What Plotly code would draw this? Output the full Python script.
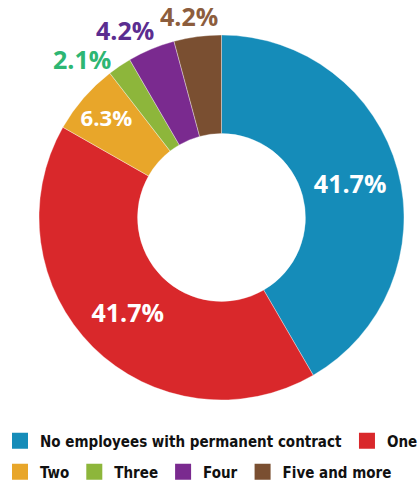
import math
import plotly.graph_objects as go

# Share of companies by number of employees on a permanent contract
categories = ["No employees with permanent contract", "One", "Two", "Three", "Four", "Five and more"]
shares = [41.7, 41.7, 6.3, 2.1, 4.2, 4.2]

slice_colors = ["#158CB9", "#D9282B", "#E8A62A", "#8DB63B", "#7A2A8F", "#7A4F31"]
small_label_colors = ["#FFFFFF", "#FFFFFF", "#FFFFFF", "#2DB673", "#5B2D90", "#8C5D3D"]
inside_labels = [True, True, True, False, False, False]
legend_rows = ["legend", "legend", "legend2", "legend2", "legend2", "legend2"]

W, H = 419, 493
# pie placement in pixels
pie_left, pie_right, pie_top, pie_bottom = 38, 405, 35, 400
HOLE = 0.46

label_font = dict(family="Open Sans", size=25, weight="bold")
legend_font = dict(family="DejaVu Sans Condensed, Liberation Sans Narrow, Liberation Sans, sans-serif",
                   size=15, color="#111111", weight="bold")

fig = go.Figure()

fig.add_trace(
    go.Pie(
        labels=categories,
        values=shares,
        sort=False,
        direction="clockwise",
        rotation=0,
        hole=HOLE,
        marker=dict(colors=slice_colors, line=dict(color="rgba(255,255,255,0.6)", width=0.6)),
        text=[f"{v:.1f}%" if ins else "" for v, ins in zip(shares, inside_labels)],
        textinfo="text",
        textposition=["inside" if ins else "none" for ins in inside_labels],
        insidetextorientation="horizontal",
        insidetextfont=dict(color="#FFFFFF", **label_font),
        automargin=False,
        showlegend=False,
        domain=dict(x=[pie_left / W, pie_right / W], y=[1 - pie_bottom / H, 1 - pie_top / H]),
        hoverinfo="label+value",
    )
)

# Small slices are labelled outside the ring: label centres sit on an ellipse
# around the pie (wider sideways to leave room for the text width); a lower
# label is nudged down when it would crowd the label above it.
cx = (pie_left + pie_right) / 2
cy = (pie_top + pie_bottom) / 2
R = min(pie_right - pie_left, pie_bottom - pie_top) / 2
rx, ry = R + 68, R + 21
LABEL_W, LABEL_GAP = 62, 29

total = sum(shares)
cum = 0.0
outside = []
for v, ins, col in zip(shares, inside_labels, small_label_colors):
    mid = (cum + v / 2) / total * 2 * math.pi
    cum += v
    if not ins:
        outside.append([cx + rx * math.sin(mid), cy - ry * math.cos(mid), v, col])

outside.sort(key=lambda p: p[1])
for upper, lower in zip(outside, outside[1:]):
    if abs(upper[0] - lower[0]) < LABEL_W and lower[1] - upper[1] < LABEL_GAP:
        lower[1] = upper[1] + LABEL_GAP

for px, py, v, col in outside:
    fig.add_annotation(
        x=px / W, y=1 - py / H, xref="paper", yref="paper",
        xanchor="center", yanchor="middle", height=26, valign="middle",
        text=f"{v:.1f}%", showarrow=False,
        font=dict(color=col, **label_font),
    )

# Legend entries, laid out in two rows
for name, col, leg in zip(categories, slice_colors, legend_rows):
    fig.add_trace(
        go.Scatter(
            x=[None], y=[None], mode="markers", name=name,
            marker=dict(symbol="square", size=16, color=col),
            legend=leg, showlegend=True, hoverinfo="skip",
        )
    )

legend_common = dict(
    orientation="h", x=0.0, xanchor="left", yanchor="middle",
    font=legend_font, itemwidth=30, traceorder="normal", bgcolor="rgba(0,0,0,0)",
)

fig.update_layout(
    width=W,
    height=H,
    margin=dict(l=0, r=0, t=0, b=0),
    paper_bgcolor="white",
    plot_bgcolor="white",
    xaxis=dict(visible=False),
    yaxis=dict(visible=False),
    legend=dict(y=1 - 441 / H, **legend_common),
    legend2=dict(y=1 - 472 / H, **legend_common),
)

fig.write_html("out.html")
